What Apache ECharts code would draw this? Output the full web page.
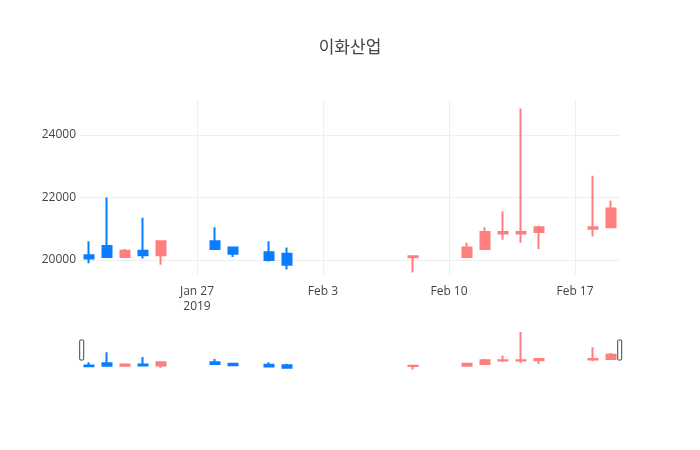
<!DOCTYPE html>
<html>
<head>
<meta charset="utf-8">
<script src="https://cdn.jsdelivr.net/npm/echarts@6/dist/echarts.min.js"></script>
<style>
  html, body { margin: 0; padding: 0; background: #fff; }
  #chart { width: 700px; height: 450px; }
</style>
</head>
<body>
<div id="chart"></div>
<script>
// every calendar day in the window, weekends included (empty days have no candle)
var dates = ["Jan 21","Jan 22","Jan 23","Jan 24","Jan 25","Jan 26","Jan 27","Jan 28","Jan 29","Jan 30",
  "Jan 31","Feb 1","Feb 2","Feb 3","Feb 4","Feb 5","Feb 6","Feb 7","Feb 8","Feb 9",
  "Feb 10","Feb 11","Feb 12","Feb 13","Feb 14","Feb 15","Feb 16","Feb 17","Feb 18","Feb 19"];
var openVals  = [20150,20450,20100,20300,20150,null,null,20600,20400,null,20250,20200,null,null,null,null,null,null,20090,null,null,20100,20350,20850,20850,20900,null,null,21000,21050];
var closeVals = [20050,20100,20300,20150,20600,null,null,20350,20200,null,20000,19850,null,null,null,null,null,null,20120,null,null,20400,20900,20900,20900,21050,null,null,21050,21650];
var lowVals   = [19900,20100,20100,20050,19850,null,null,20350,20100,null,19950,19700,null,null,null,null,null,null,19600,null,null,20100,20350,20650,20550,20350,null,null,20750,21050];
var highVals  = [20600,22000,20350,21350,20600,null,null,21050,20400,null,20600,20400,null,null,null,null,null,null,20120,null,null,20550,21050,21550,24850,21100,null,null,22700,21900];
var tickDates = ["Jan 27","Feb 3","Feb 10","Feb 17"];
var tickText  = {"Jan 27": "Jan 27\n2019", "Feb 3": "Feb 3", "Feb 10": "Feb 10", "Feb 17": "Feb 17"};
var yMin = 19520, yMax = 25120;

var upColor = "#ff7f7f", downColor = "#0a7cff";

var ohlc = dates.map(function (d, i) {
  if (openVals[i] == null) return "-";
  return [openVals[i], closeVals[i], lowVals[i], highVals[i]];
});

var candleStyle = {
  color: upColor, color0: downColor,
  borderColor: upColor, borderColor0: downColor,
  borderWidth: 2
};

var myChart = echarts.init(document.getElementById("chart"));
var option = {
  animation: false,
  backgroundColor: "#fff",
  textStyle: { fontFamily: "Open Sans" },
  title: {
    text: "이화산업",
    left: "center",
    top: 33,
    textStyle: { fontFamily: "Noto Sans CJK KR", fontSize: 17, fontWeight: "normal", color: "#444" }
  },
  grid: [
    { left: 80, right: 80, top: 100, height: 175 },
    { left: 80, right: 80, top: 330, height: 40 }
  ],
  xAxis: [
    {
      type: "category",
      gridIndex: 0,
      data: dates,
      boundaryGap: true,
      axisLine: { show: false },
      axisTick: { show: false },
      splitLine: { show: false },
      axisLabel: {
        margin: 9,
        color: "#444",
        fontSize: 12,
        lineHeight: 15,
        interval: function (idx, val) { return tickDates.indexOf(val) >= 0; },
        formatter: function (val) { return tickText[val] || ""; }
      }
    },
    {
      type: "category",
      gridIndex: 1,
      data: dates,
      boundaryGap: true,
      show: false
    }
  ],
  yAxis: [
    {
      type: "value",
      gridIndex: 0,
      min: yMin,
      max: yMax,
      splitNumber: 3,
      axisLine: { show: false },
      axisTick: { show: false },
      axisLabel: {
        color: "#444", fontSize: 12, margin: 4, showMinLabel: false, showMaxLabel: false,
        formatter: function (v) { return String(v); }
      },
      splitLine: { lineStyle: { color: "#eee" }, showMinLine: false, showMaxLine: false }
    },
    {
      type: "value",
      gridIndex: 1,
      min: yMin,
      max: yMax,
      show: false,
      splitLine: { show: false }
    }
  ],
  dataZoom: [
    {
      type: "slider",
      xAxisIndex: [0],
      start: 0,
      end: 100,
      left: 80,
      right: 80,
      top: 330,
      height: 40,
      showDetail: false,
      showDataShadow: false,
      brushSelect: false,
      moveHandleSize: 0,
      backgroundColor: "rgba(0,0,0,0)",
      fillerColor: "rgba(0,0,0,0)",
      borderColor: "rgba(0,0,0,0)",
      handleIcon: "path://M1,0h2q1,0 1,1v18q0,1 -1,1h-2q-1,0 -1,-1v-18q0,-1 1,-1z",
      handleSize: "50%",
      handleStyle: { color: "#fff", borderColor: "#444", borderWidth: 1 },
      emphasis: { handleStyle: { color: "#fff", borderColor: "#444" } }
    }
  ],
  series: [
    {
      name: "이화산업",
      type: "candlestick",
      xAxisIndex: 0,
      yAxisIndex: 0,
      data: ohlc,
      barWidth: 9,
      itemStyle: candleStyle,
      markLine: {
        silent: true,
        symbol: "none",
        label: { show: false },
        lineStyle: { color: "#eee", width: 1, type: "solid" },
        data: tickDates.map(function (d) { return { xAxis: d }; })
      }
    },
    {
      name: "slider",
      type: "candlestick",
      xAxisIndex: 1,
      yAxisIndex: 1,
      data: ohlc,
      barWidth: 9,
      silent: true,
      itemStyle: candleStyle
    }
  ]
};
myChart.setOption(option);
</script>
</body>
</html>
